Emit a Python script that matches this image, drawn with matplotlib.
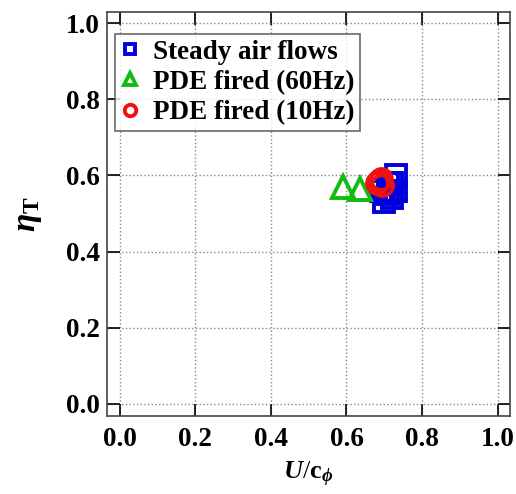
import matplotlib
matplotlib.use("Agg")
import matplotlib.pyplot as plt

plt.rcParams['font.family'] = ['Liberation Serif', 'DejaVu Serif']
plt.rcParams['mathtext.fontset'] = 'custom'
plt.rcParams['mathtext.rm'] = 'Liberation Serif'
plt.rcParams['mathtext.it'] = 'Liberation Serif:italic:bold'
plt.rcParams['mathtext.bf'] = 'Liberation Serif:bold'

# steady air flows
steady_x = [0.73, 0.72, 0.73, 0.71, 0.70, 0.72, 0.69, 0.71]
steady_y = [0.60, 0.58, 0.56, 0.55, 0.53, 0.54, 0.56, 0.58]
# PDE fired 60 Hz
pde60_x = [0.59, 0.635]
pde60_y = [0.57, 0.565]
# PDE fired 10 Hz
pde10_x = [0.685, 0.695, 0.69, 0.68]
pde10_y = [0.585, 0.575, 0.59, 0.58]

ticks = [0.0, 0.2, 0.4, 0.6, 0.8, 1.0]

fig = plt.figure(figsize=(5.16, 4.94), dpi=100)
ax = fig.add_axes([0.207, 0.158, 0.781, 0.818])

ax.plot(steady_x, steady_y, 's', ms=14, mfc='none', mec='#0000dd', mew=2.8,
        label='Steady air flows')
ax.plot(pde60_x, pde60_y, '^', ms=16, mfc='none', mec='#11bb11', mew=2.8,
        label='PDE fired (60Hz)')
ax.plot(pde10_x, pde10_y, 'o', ms=15, mfc='none', mec='#ee1111', mew=2.8,
        label='PDE fired (10Hz)')

ax.set_xlim(-0.034, 1.032)
ax.set_ylim(-0.032, 1.03)
ax.set_xticks(ticks)
ax.set_yticks(ticks)
ax.set_xticklabels([f'{t:.1f}' for t in ticks])
ax.set_yticklabels([f'{t:.1f}' for t in ticks])
ax.tick_params(direction='in', length=9, width=1.2, top=True, right=True,
               labelsize=19.5)
ax.tick_params(axis='x', pad=8)
ax.tick_params(axis='y', pad=5)
for lab in ax.get_xticklabels() + ax.get_yticklabels():
    lab.set_fontweight('bold')
for sp in ax.spines.values():
    sp.set_linewidth(1.2)
    sp.set_color('#444444')

ax.grid(True, linestyle=':', color='#888888', linewidth=1.0)

ax.set_xlabel(r'$\mathit{U}$/$\mathbf{c}_{\phi}$', fontsize=19, labelpad=6)
ax.set_ylabel(r'$\mathit{\eta}_{\mathbf{T}}$', fontsize=24, labelpad=16)

leg = ax.legend(loc='upper left', bbox_to_anchor=(0.0, 0.965),
                prop={'weight': 'bold', 'size': 19.5}, handlelength=0.7,
                handletextpad=0.5, borderpad=0.2, labelspacing=0.2,
                frameon=True, fancybox=False, edgecolor='#444444',
                borderaxespad=0.3, markerscale=0.55)
leg.get_frame().set_linewidth(1.2)

fig.savefig('out.png', dpi=100)
